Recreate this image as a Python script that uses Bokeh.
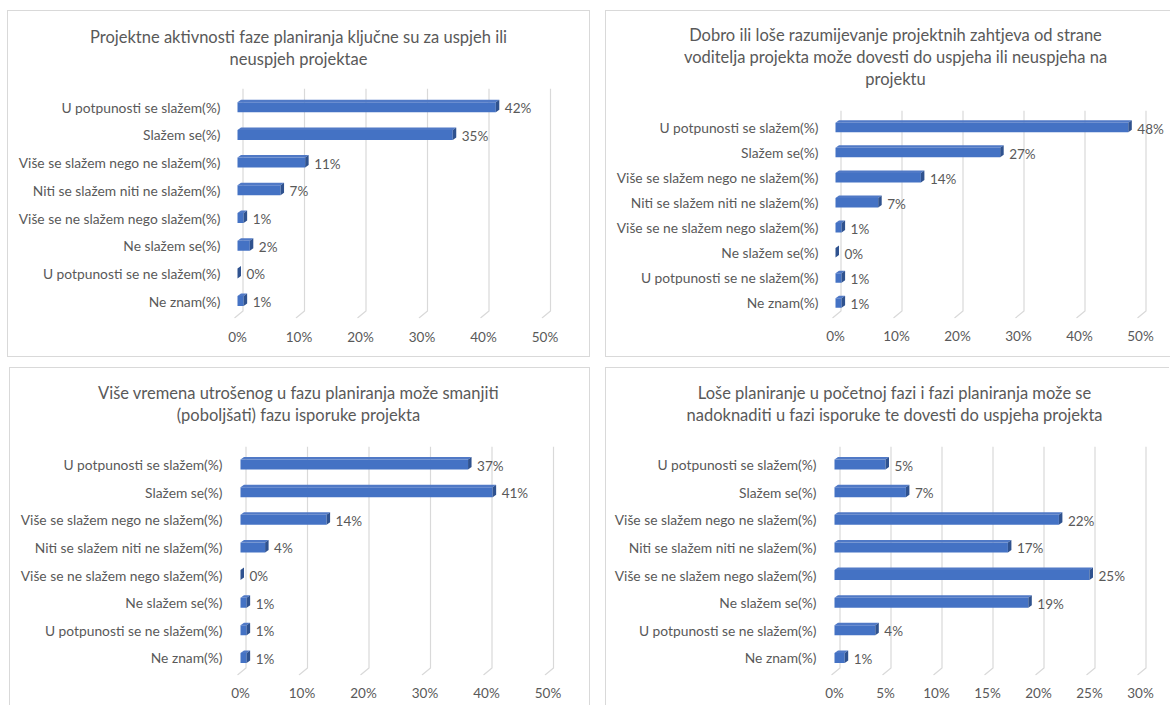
from bokeh.plotting import figure
from bokeh.models import FixedTicker, Range1d, ColumnDataSource
from bokeh.layouts import column, row
from bokeh.embed import file_html
from bokeh.resources import INLINE
from bokeh.core.properties import value

categories = [
    "U potpunosti se slažem(%)",
    "Slažem se(%)",
    "Više se slažem nego ne slažem(%)",
    "Niti se slažem niti ne slažem(%)",
    "Više se ne slažem nego slažem(%)",
    "Ne slažem se(%)",
    "U potpunosti se ne slažem(%)",
    "Ne znam(%)",
]
values_1 = [42, 35, 11, 7, 1, 2, 0, 1]
values_2 = [48, 27, 14, 7, 1, 0, 1, 1]
values_3 = [37, 41, 14, 4, 0, 1, 1, 1]
values_4 = [5, 7, 22, 17, 25, 19, 4, 1]

title_1 = ["Projektne aktivnosti faze planiranja ključne su za uspjeh ili",
           "neuspjeh projektae"]
title_2 = ["Dobro ili loše razumijevanje projektnih zahtjeva od strane",
           "voditelja projekta može dovesti do uspjeha ili neuspjeha na",
           "projektu"]
title_3 = ["Više vremena utrošenog u fazu planiranja može smanjiti",
           "(poboljšati) fazu isporuke projekta"]
title_4 = ["Loše planiranje u početnoj fazi i fazi planiranja može se",
           "nadoknaditi u fazi isporuke te dovesti do uspjeha projekta"]

ticks_50 = [0, 10, 20, 30, 40, 50]
tick_labels_50 = ["0%", "10%", "20%", "30%", "40%", "50%"]
ticks_30 = [0, 5, 10, 15, 20, 25, 30]
tick_labels_30 = ["0%", "5%", "10%", "15%", "20%", "25%", "30%"]

FONT = "Lato"
TEXT = "#595959"
BAR = "#4472C4"
BAR_TOP = "#5079C6"
BAR_SIDE = "#2F528F"
GRID = "#D9D9D9"
BORDER = "1px solid #D9D9D9"


def sides(names):
    st = {"box-sizing": "border-box"}
    for n in names:
        st["border-" + n] = BORDER
    return st


def panel(title_lines, vals, ticks, tick_labels, g, t_sides, c_sides):
    # g: layout geometry in page pixels
    T = g["frame_top"] - g["top"]
    W, H = g["W"], g["H"]
    # --- title strip
    tf = figure(width=W, height=T, x_range=Range1d(0, W), y_range=Range1d(T, 0),
                output_backend="svg", toolbar_location=None, title=None,
                x_axis_location=None, y_axis_location=None,
                min_border=0, outline_line_color=None, frame_align=False)
    tf.xgrid.visible = False
    tf.ygrid.visible = False
    tf.styles = sides(t_sides)
    tf.text(x=[g["title_cx"] - g["left"]] * len(title_lines),
            y=[yy - g["top"] for yy in g["title_ys"]],
            text=title_lines, text_align="center", text_baseline="middle",
            text_font=value(FONT), text_font_size="16.5px", text_color=TEXT)

    # --- chart
    ppu, row_px = g["ppu"], g["row_px"]
    CH = H - T
    frame_left = g["bar_left"] - 4 - g["left"]
    frame_right = W - 3
    fw = frame_right - frame_left
    fh = g["frame_bottom"] - g["frame_top"]
    x0 = -4.0 / ppu
    x1 = x0 + fw / ppu
    n = len(vals)
    y1 = n + (g["first_row"] - g["frame_top"]) / row_px
    y0 = y1 - fh / row_px

    p = figure(width=W, height=CH, x_range=Range1d(x0, x1), y_range=Range1d(y0, y1),
               output_backend="svg", toolbar_location=None, title=None,
               min_border_left=frame_left, min_border_right=W - frame_right,
               min_border_top=0, min_border_bottom=CH - fh, frame_align=False)
    p.outline_line_color = None
    p.xgrid.visible = False
    p.ygrid.visible = False
    p.styles = sides(c_sides)

    ys = [n - i for i in range(n)]

    # gridlines (3D back wall with slanted floor part)
    gx = 5.5 / ppu
    gs = 3.0 / ppu
    gxs = [[t + gx, t + gx, t - gs] for t in ticks]
    gys = [[y1, y0 + 7.5 / row_px, y0 + 0.5 / row_px] for t in ticks]
    p.multi_line(gxs, gys, line_color=GRID, line_width=1.2)

    h = g["bar_h"] / row_px
    dx = 3.5 / ppu
    dy = 2.5 / row_px
    src = ColumnDataSource(dict(y=ys, v=vals, lab=[f"{v}%" for v in vals]))
    p.hbar(y="y", left=0, right="v", height=h, fill_color=BAR, line_color=None, source=src)
    top_xs = [[0, v, v + dx, dx] for v in vals]
    top_ys = [[y + h / 2, y + h / 2, y + h / 2 + dy, y + h / 2 + dy] for y in ys]
    p.patches(top_xs, top_ys, fill_color=BAR_TOP, line_color=None)
    side_xs = [[v, v + dx, v + dx, v] for v in vals]
    side_ys = [[y - h / 2, y - h / 2 + dy, y + h / 2 + dy, y + h / 2] for y in ys]
    p.patches(side_xs, side_ys, fill_color=BAR_SIDE, line_color=None)

    p.text(x="v", y="y", text="lab", source=src, x_offset=9, y_offset=1,
           text_align="left", text_baseline="middle", text_font=value(FONT),
           text_font_size="13.5px", text_color=TEXT)

    p.yaxis.ticker = FixedTicker(ticks=ys)
    p.yaxis.major_label_overrides = {y: c for y, c in zip(ys, categories)}
    p.xaxis.ticker = FixedTicker(ticks=ticks)
    p.xaxis.major_label_overrides = {t: l for t, l in zip(ticks, tick_labels)}
    for ax in (p.xaxis, p.yaxis):
        ax.axis_line_color = None
        ax.major_tick_line_color = None
        ax.minor_tick_line_color = None
        ax.major_tick_out = 0
        ax.major_tick_in = 0
        ax.minor_tick_out = 0
        ax.minor_tick_in = 0
        ax.major_label_text_font = FONT
        ax.major_label_text_color = TEXT
    p.yaxis.major_label_text_font_size = "13.8px"
    p.xaxis.major_label_text_font_size = "13.5px"
    p.yaxis.major_label_standoff = int(round(g["bar_left"] - 4 - g["cat_right"]))
    p.xaxis.major_label_standoff = int(round(g["tick_y"] - g["frame_bottom"] - 8))

    return column(tf, p, spacing=0)


g1 = dict(left=7, top=10, W=583, H=347, frame_top=88, frame_bottom=318, bar_left=236,
          first_row=106.7, row_px=27.7, title_cx=297, title_ys=[35, 57], cat_right=219,
          tick_y=336, ppu=6.15, bar_h=10)
g2 = dict(left=604, top=10, W=565, H=347, frame_top=110, frame_bottom=318, bar_left=833,
          first_row=127, row_px=25.07, title_cx=893, title_ys=[33, 55, 77], cat_right=816,
          tick_y=335, ppu=6.1, bar_h=9.5)
g3 = dict(left=9, top=367, W=581, H=338, frame_top=446, frame_bottom=675, bar_left=239,
          first_row=464, row_px=27.64, title_cx=297, title_ys=[391, 413], cat_right=221,
          tick_y=692, ppu=6.15, bar_h=10)
g4 = dict(left=605, top=367, W=564, H=338, frame_top=446, frame_bottom=675, bar_left=833,
          first_row=464, row_px=27.64, title_cx=893, title_ys=[391, 413], cat_right=815,
          tick_y=692, ppu=10.2, bar_h=10)

p1 = panel(title_1, values_1, ticks_50, tick_labels_50, g1,
           ["left", "top", "right"], ["left", "bottom", "right"])
p2 = panel(title_2, values_2, ticks_50, tick_labels_50, g2,
           ["left", "top"], ["left", "bottom"])
p3 = panel(title_3, values_3, ticks_50, tick_labels_50, g3,
           ["left", "top", "right"], ["left", "right"])
p4 = panel(title_4, values_4, ticks_30, tick_labels_30, g4,
           ["left", "top"], ["left"])

row1 = row(p1, p2, spacing=15)
row2 = row(p3, p4, spacing=15, margin=(0, 0, 0, 2))
layout = column(row1, row2, spacing=10, margin=(10, 0, 0, 7))
open("out.html", "w").write(file_html(layout, INLINE))
